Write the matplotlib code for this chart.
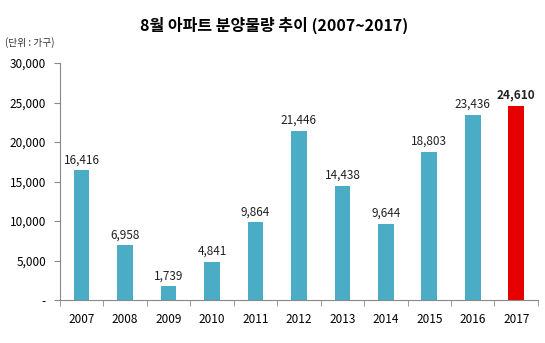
import matplotlib.pyplot as plt
from matplotlib.ticker import FixedLocator, FuncFormatter

plt.rcParams['font.family'] = ['Noto Sans CJK KR', 'DejaVu Sans']

years = ['2007', '2008', '2009', '2010', '2011', '2012', '2013', '2014', '2015', '2016', '2017']
units = [16416, 6958, 1739, 4841, 9864, 21446, 14438, 9644, 18803, 23436, 24610]
colors = ['#4bacc6'] * 10 + ['#e60000']

fig = plt.figure(figsize=(5.45, 3.43), dpi=100)
ax = fig.add_axes([0.110, 0.125, 0.877, 0.691])

x = range(len(years))
ax.bar(x, units, width=0.36, color=colors)

for i, v in enumerate(units):
    last = i == len(units) - 1
    ax.text(i, v + 500, f'{v:,}', ha='center', va='bottom', fontsize=8.5,
            color='#222222', fontweight='bold' if last else 'normal')

ax.set_xlim(-0.5, len(years) - 0.5)
ax.set_ylim(0, 30000)
ax.set_yticks(range(0, 30001, 5000))
ax.yaxis.set_major_formatter(FuncFormatter(lambda v, p: '-' if v == 0 else f'{int(v):,}'))
ax.set_xticks(list(x))
ax.set_xticklabels(years)
ax.xaxis.set_minor_locator(FixedLocator([i - 0.5 for i in range(len(years) + 1)]))
ax.tick_params(axis='x', which='major', length=0, labelsize=8.5, pad=9)
ax.tick_params(axis='x', which='minor', length=4, color='#888888')
ax.tick_params(axis='y', length=4, color='#888888', labelsize=8.5, pad=6)

for s in ['top', 'right']:
    ax.spines[s].set_visible(False)
for s in ['left', 'bottom']:
    ax.spines[s].set_color('#888888')

fig.text(0.503, 0.925, '8월 아파트 분양물량 추이 (2007~2017)', ha='center', va='center',
         fontsize=11.5, fontweight='bold')
fig.text(0.01, 0.875, '(단위 : 가구)', ha='left', va='center', fontsize=7, color='#333333')

fig.savefig('out.png', dpi=100)
